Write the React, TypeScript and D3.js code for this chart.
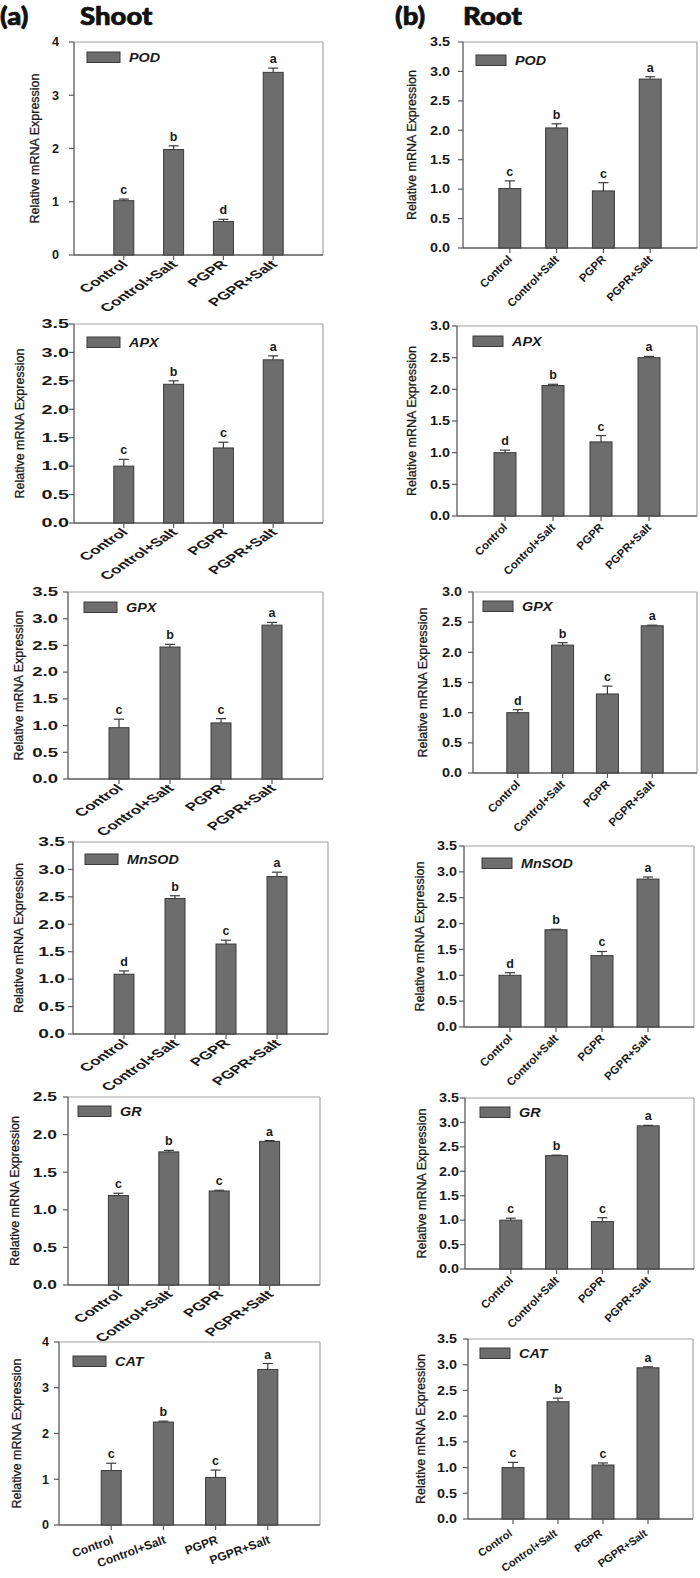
import React from "react";
import * as d3 from "d3";

// ---------- data ----------
const categories = ["Control", "Control+Salt", "PGPR", "PGPR+Salt"];

const shootPOD = [1.02, 1.98, 0.63, 3.43];
const shootPODErr = [0.03, 0.07, 0.04, 0.08];
const shootPODLetters = ["c", "b", "d", "a"];

const shootAPX = [1.0, 2.44, 1.32, 2.87];
const shootAPXErr = [0.12, 0.06, 0.1, 0.07];
const shootAPXLetters = ["c", "b", "c", "a"];

const shootGPX = [0.96, 2.47, 1.05, 2.88];
const shootGPXErr = [0.16, 0.05, 0.08, 0.05];
const shootGPXLetters = ["c", "b", "c", "a"];

const shootMnSOD = [1.09, 2.47, 1.64, 2.87];
const shootMnSODErr = [0.06, 0.05, 0.07, 0.08];
const shootMnSODLetters = ["d", "b", "c", "a"];

const shootGR = [1.19, 1.77, 1.25, 1.91];
const shootGRErr = [0.03, 0.02, 0.01, 0.01];
const shootGRLetters = ["c", "b", "c", "a"];

const shootCAT = [1.19, 2.25, 1.04, 3.4];
const shootCATErr = [0.16, 0.02, 0.16, 0.13];
const shootCATLetters = ["c", "b", "c", "a"];

const rootPOD = [1.01, 2.04, 0.97, 2.87];
const rootPODErr = [0.13, 0.07, 0.14, 0.04];
const rootPODLetters = ["c", "b", "c", "a"];

const rootAPX = [1.0, 2.06, 1.17, 2.5];
const rootAPXErr = [0.04, 0.02, 0.1, 0.02];
const rootAPXLetters = ["d", "b", "c", "a"];

const rootGPX = [1.0, 2.12, 1.31, 2.44];
const rootGPXErr = [0.05, 0.04, 0.13, 0.01];
const rootGPXLetters = ["d", "b", "c", "a"];

const rootMnSOD = [1.0, 1.88, 1.38, 2.86];
const rootMnSODErr = [0.05, 0.01, 0.08, 0.04];
const rootMnSODLetters = ["d", "b", "c", "a"];

const rootGR = [1.0, 2.32, 0.97, 2.93];
const rootGRErr = [0.04, 0.01, 0.08, 0.01];
const rootGRLetters = ["c", "b", "c", "a"];

const rootCAT = [1.0, 2.28, 1.05, 2.94];
const rootCATErr = [0.1, 0.07, 0.04, 0.02];
const rootCATLetters = ["c", "b", "c", "a"];

const yLabel = "Relative mRNA Expression";

// ---------- layout (positions/styles) ----------
type XLab = { angle: number; sx: number; dx: number; dy: number; fs: number };
type Panel = {
  gene: string;
  values: number[];
  errs: number[];
  letters: string[];
  ymax: number;
  left: number;
  right: number;
  top: number;
  bottom: number;
  barW: number;
  tickSx: number;
  tickGap: number;
  yLabX: number;
  xl: XLab;
  legDx: number;
  legDy: number;
  legW: number;
};

const xlShoot: XLab = { angle: 45, sx: 1.5, dx: 5, dy: 10, fs: 11.3 };
const xlShootLast: XLab = { angle: 20, sx: 1, dx: 3, dy: 18, fs: 12 };
const xlRoot: XLab = { angle: 45, sx: 1, dx: 3, dy: 12, fs: 11.3 };
const xlRootLast: XLab = { angle: 35, sx: 1, dx: 0, dy: 16, fs: 10.9 };

const shootBase = { barW: 20, legW: 33 };
const rootBase = { barW: 22, legW: 30 };

const panels: Panel[] = [
  { gene: "POD", values: shootPOD, errs: shootPODErr, letters: shootPODLetters, ymax: 4, left: 74, right: 323, top: 42, bottom: 255, tickSx: 1.05, tickGap: 15, yLabX: 34, legDx: 13, legDy: 10, xl: xlShoot, ...shootBase },
  { gene: "APX", values: shootAPX, errs: shootAPXErr, letters: shootAPXLetters, ymax: 3.5, left: 74, right: 323, top: 324, bottom: 523, tickSx: 1.65, tickGap: 5, yLabX: 19, legDx: 13, legDy: 13, xl: xlShoot, ...shootBase },
  { gene: "GPX", values: shootGPX, errs: shootGPXErr, letters: shootGPXLetters, ymax: 3.5, left: 68, right: 323, top: 592, bottom: 779, tickSx: 1.55, tickGap: 10, yLabX: 18, legDx: 16, legDy: 10, xl: xlShoot, ...shootBase },
  { gene: "MnSOD", values: shootMnSOD, errs: shootMnSODErr, letters: shootMnSODLetters, ymax: 3.5, left: 73, right: 328, top: 842, bottom: 1034, tickSx: 1.6, tickGap: 8, yLabX: 18, legDx: 12, legDy: 12, xl: xlShoot, ...shootBase },
  { gene: "GR", values: shootGR, errs: shootGRErr, letters: shootGRLetters, ymax: 2.5, left: 68, right: 320, top: 1097, bottom: 1285, tickSx: 1.45, tickGap: 11, yLabX: 14, legDx: 10, legDy: 9, xl: xlShoot, ...shootBase },
  { gene: "CAT", values: shootCAT, errs: shootCATErr, letters: shootCATLetters, ymax: 4, left: 59, right: 320, top: 1342, bottom: 1525, tickSx: 1.05, tickGap: 10, yLabX: 16, legDx: 14, legDy: 14, xl: xlShootLast, ...shootBase },
  { gene: "POD", values: rootPOD, errs: rootPODErr, letters: rootPODLetters, ymax: 3.5, left: 463, right: 697, top: 42, bottom: 248, tickSx: 1.2, tickGap: 13, yLabX: 411, legDx: 13, legDy: 13, xl: xlRoot, ...rootBase },
  { gene: "APX", values: rootAPX, errs: rootAPXErr, letters: rootAPXLetters, ymax: 3.0, left: 457, right: 697, top: 326, bottom: 516, tickSx: 1.2, tickGap: 7, yLabX: 411, legDx: 16, legDy: 10, xl: xlRoot, ...rootBase },
  { gene: "GPX", values: rootGPX, errs: rootGPXErr, letters: rootGPXLetters, ymax: 3.0, left: 473, right: 697, top: 592, bottom: 773, tickSx: 1.2, tickGap: 11, yLabX: 422, legDx: 10, legDy: 9, xl: xlRoot, ...rootBase },
  { gene: "MnSOD", values: rootMnSOD, errs: rootMnSODErr, letters: rootMnSODLetters, ymax: 3.5, left: 464, right: 694, top: 846, bottom: 1027, tickSx: 1.2, tickGap: 7, yLabX: 419, legDx: 18, legDy: 12, xl: xlRoot, ...rootBase },
  { gene: "GR", values: rootGR, errs: rootGRErr, letters: rootGRLetters, ymax: 3.5, left: 465, right: 694, top: 1098, bottom: 1269, tickSx: 1.2, tickGap: 6, yLabX: 421, legDx: 15, legDy: 9, xl: xlRoot, ...rootBase },
  { gene: "CAT", values: rootCAT, errs: rootCATErr, letters: rootCATLetters, ymax: 3.5, left: 468, right: 693, top: 1339, bottom: 1519, tickSx: 1.2, tickGap: 11, yLabX: 420, legDx: 12, legDy: 9, xl: xlRootLast, ...rootBase },
];

const FONT = "'Liberation Sans', Arial, sans-serif";
const TITLE_FONT = "Lato, 'Open Sans', sans-serif";
const BAR_FILL = "#6d6d6d";
const BAR_STROKE = "#3a3a3a";
const TEXT = "#1a1a1a";

function PanelChart({ p }: { p: Panel }) {
  const x = d3.scalePoint<string>().domain(categories).range([p.left, p.right]).padding(1);
  const y = d3.scaleLinear().domain([0, p.ymax]).range([p.bottom, p.top]);
  const step = p.ymax === 4 ? 1 : 0.5;
  const ticks = d3.range(0, p.ymax + step / 2, step);
  const fmt = p.ymax === 4 ? d3.format("d") : d3.format(".1f");
  const midY = (p.top + p.bottom) / 2;
  return (
    <g>
      {/* frame */}
      <line x1={p.left} x2={p.right} y1={p.top} y2={p.top} stroke="#a4a4a4" strokeWidth={1.2} />
      <line x1={p.right} x2={p.right} y1={p.top} y2={p.bottom} stroke="#a4a4a4" strokeWidth={1.2} />
      <line x1={p.left} x2={p.left} y1={p.top} y2={p.bottom} stroke="#5a5a5a" strokeWidth={1.3} />
      <line x1={p.left} x2={p.right} y1={p.bottom} y2={p.bottom} stroke="#5a5a5a" strokeWidth={1.3} />
      {/* y ticks */}
      {ticks.map((t) => (
        <g key={t}>
          <line x1={p.left - 5} x2={p.left} y1={y(t)} y2={y(t)} stroke="#5a5a5a" strokeWidth={1.2} />
          <text
            transform={`translate(${p.left - p.tickGap},${y(t)}) scale(${p.tickSx},1)`}
            textAnchor="end"
            dy="0.36em"
            fontFamily={FONT}
            fontWeight="bold"
            fontSize={12}
            fill={TEXT}
          >
            {fmt(t)}
          </text>
        </g>
      ))}
      {/* y label */}
      <text
        transform={`translate(${p.yLabX},${midY}) rotate(-90)`}
        textAnchor="middle"
        dy="0.36em"
        fontFamily={FONT}
        fontSize={12.5}
        fill={TEXT}
        stroke={TEXT}
        strokeWidth={0.3}
      >
        {yLabel}
      </text>
      {/* bars */}
      {categories.map((c, i) => {
        const cx = x(c) as number;
        const v = p.values[i];
        const e = p.errs[i];
        const yTop = y(v);
        const yErr = y(v + e);
        return (
          <g key={c}>
            <rect x={cx - p.barW / 2} y={yTop} width={p.barW} height={p.bottom - yTop} fill={BAR_FILL} stroke={BAR_STROKE} strokeWidth={1} />
            <line x1={cx} x2={cx} y1={yTop} y2={yErr} stroke={BAR_STROKE} strokeWidth={1.2} />
            <line x1={cx - 5} x2={cx + 5} y1={yErr} y2={yErr} stroke={BAR_STROKE} strokeWidth={1.2} />
            <text x={cx} y={yErr - 5} textAnchor="middle" fontFamily={FONT} fontWeight="bold" fontSize={12.5} fill={TEXT}>
              {p.letters[i]}
            </text>
            <line x1={cx} x2={cx} y1={p.bottom} y2={p.bottom + 5} stroke="#5a5a5a" strokeWidth={1.2} />
            <text
              transform={`translate(${cx + p.xl.dx},${p.bottom + p.xl.dy}) scale(${p.xl.sx},1) rotate(${-p.xl.angle})`}
              textAnchor="end"
              fontFamily={FONT}
              fontWeight="bold"
              fontSize={p.xl.fs}
              fill={TEXT}
            >
              {c}
            </text>
          </g>
        );
      })}
      {/* legend */}
      <rect x={p.left + p.legDx} y={p.top + p.legDy} width={p.legW} height={10.5} fill={BAR_FILL} stroke={BAR_STROKE} strokeWidth={1} />
      <text
        transform={`translate(${p.left + p.legDx + p.legW + 9},${p.top + p.legDy + 10}) scale(1.15,1)`}
        fontFamily={FONT}
        fontWeight="bold"
        fontStyle="italic"
        fontSize={12.5}
        fill={TEXT}
      >
        {p.gene}
      </text>
    </g>
  );
}

const titles = [
  { t: "(a)", x: 0 },
  { t: "Shoot", x: 80 },
  { t: "(b)", x: 395 },
  { t: "Root", x: 463 },
];

export default function App() {
  return (
    <svg
      width={700}
      height={1578}
      viewBox="0 0 700 1578"
      style={{ position: "absolute", left: 0, top: 0, background: "#fff" }}
    >
      <rect width={700} height={1578} fill="#fff" />
      {titles.map((d) => (
        <text
          key={d.t}
          transform={`translate(${d.x},25) scale(1.1,1)`}
          fontFamily={TITLE_FONT}
          fontWeight={900}
          fontSize={25}
          fill="#111"
          stroke="#111"
          strokeWidth={0.7}
        >
          {d.t}
        </text>
      ))}
      {panels.map((p, i) => (
        <PanelChart key={i} p={p} />
      ))}
    </svg>
  );
}
